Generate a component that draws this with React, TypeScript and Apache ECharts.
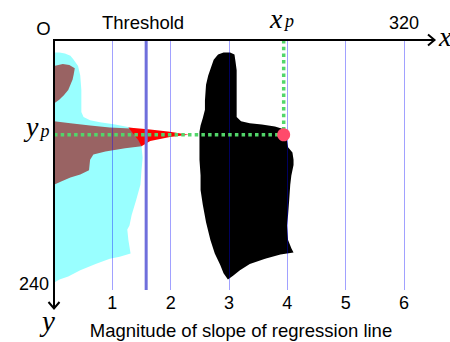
import React, { useEffect, useRef } from "react";
import * as echarts from "echarts";

// Image-space coordinates (x: 0..320, y: 0..240, y downward)
const cyanRegion: number[][] = [
  [0, 12], [5, 12], [10, 13], [15, 15], [18, 19], [22, 25], [24, 34], [25, 48], [25, 69],
  [27, 74], [33, 77], [42, 79], [56, 81], [70, 84], [79, 87], [80, 102], [81, 113], [80, 125],
  [79, 139], [75, 154], [71, 168], [69, 178], [67, 182], [68, 192], [70, 205], [60, 208],
  [51, 210], [38, 215], [24, 221], [13, 227], [5, 230], [0, 233],
];
const brownUpper: number[][] = [
  [0, 25], [8, 23], [14, 24], [19, 27], [18, 33], [17, 38], [13, 48], [9, 53], [5, 57], [0, 61],
];
const brownLower: number[][] = [
  [0, 78], [15, 80], [33, 82], [51, 84], [70, 85], [77, 87], [80, 96], [80, 102], [65, 104],
  [47, 107], [36, 110], [33, 115], [32, 125], [24, 129], [15, 132], [6, 136], [0, 139],
];
const redRegion: number[][] = [
  [68, 84], [88, 86], [106, 88], [123, 91], [106, 93], [88, 97], [80, 102], [77, 96], [71, 88],
];
const blackRegion: number[][] = [
  [155, 12], [161, 12], [165, 14], [166, 21], [167, 29], [167, 43], [167, 58], [167, 74],
  [171, 78], [179, 80], [190, 81], [202, 83], [208, 85], [212, 89], [213, 96], [214, 103],
  [218, 108], [219, 115], [219, 120], [217, 130], [216, 139], [215, 154], [214, 168], [213, 178],
  [214, 192], [217, 200], [219, 204], [207, 206], [193, 210], [179, 215], [170, 221], [164, 226],
  [159, 230], [155, 224], [152, 216], [147, 205], [143, 192], [139, 175], [136, 158], [134, 144],
  [134, 130], [133, 115], [133, 101], [133, 88], [134, 82], [136, 75], [138, 67], [138, 58],
  [139, 43], [141, 34], [144, 25], [146, 19], [150, 14],
];
const pointP: number[] = [210, 91];
const thresholdValue = 1.58;
const slopeTicks = [1, 2, 3, 4, 5, 6];

const polySeries = (pts: number[][], color: string, z: number) => ({
  type: "custom",
  xAxisIndex: 1,
  yAxisIndex: 0,
  z,
  silent: true,
  data: [[0, 0]],
  renderItem: (_params: any, api: any) => ({
    type: "polygon",
    shape: { points: pts.map((p) => api.coord(p)) },
    style: { fill: color, stroke: null },
  }),
});

export default function App() {
  const ref = useRef<HTMLDivElement>(null);
  useEffect(() => {
    if (!ref.current) return;
    const chart = echarts.init(ref.current, null, { renderer: "svg" });
    const sans = "Liberation Sans, Arial, sans-serif";
    const serif = "Liberation Serif, Times New Roman, serif";
    const gridBlue = "rgba(0,0,255,0.37)";
    const ink = "#000";
    chart.setOption({
      animation: false,
      backgroundColor: "#ffffff",
      grid: { left: 54, top: 40, width: 350, height: 250, containLabel: false },
      xAxis: [
        {
          type: "value",
          position: "bottom",
          min: 0,
          max: 6,
          interval: 1,
          z: 3,
          axisLine: { show: true, lineStyle: { color: gridBlue, width: 1.5 } },
          axisTick: { show: false },
          axisLabel: {
            show: true,
            showMinLabel: false,
            fontSize: 18,
            color: ink,
            fontFamily: sans,
            margin: 4,
            formatter: (v: number) => (slopeTicks.includes(v) ? String(v) : ""),
          },
          splitLine: { show: true, lineStyle: { color: gridBlue, width: 1 } },
        },
        {
          type: "value",
          position: "top",
          min: 0,
          max: 320,
          show: false,
        },
      ],
      yAxis: [
        {
          type: "value",
          inverse: true,
          min: 0,
          max: 240,
          axisLine: { show: false },
          axisTick: { show: false },
          axisLabel: { show: false },
          splitLine: { show: false },
        },
      ],
      series: [
        polySeries(cyanRegion, "#99ffff", 1),
        polySeries(brownUpper, "#996363", 1),
        polySeries(brownLower, "#996363", 1),
        polySeries(redRegion, "#ff0000", 1),
        polySeries(blackRegion, "#000000", 1),
        {
          type: "line",
          xAxisIndex: 0,
          yAxisIndex: 0,
          z: 4,
          symbol: "none",
          silent: true,
          data: [[thresholdValue, 0], [thresholdValue, 240]],
          lineStyle: { color: "#6f6fdc", width: 3 },
        },
        {
          type: "line",
          xAxisIndex: 1,
          yAxisIndex: 0,
          z: 6,
          symbol: "none",
          silent: true,
          data: [[0, pointP[1]], [pointP[0], pointP[1]]],
          lineStyle: { color: "#52d66a", width: 3.5, type: [3.5, 3.2], cap: "butt" },
        },
        {
          type: "line",
          xAxisIndex: 1,
          yAxisIndex: 0,
          z: 6,
          symbol: "none",
          silent: true,
          data: [[pointP[0], 0], [pointP[0], pointP[1]]],
          lineStyle: { color: "#52d66a", width: 3.5, type: [3.5, 3.2], cap: "butt" },
        },
        {
          type: "scatter",
          xAxisIndex: 1,
          yAxisIndex: 0,
          z: 7,
          silent: true,
          symbol: "circle",
          symbolSize: 13,
          itemStyle: { color: "#ff4a6b", opacity: 1 },
          data: [pointP],
        },
      ],
      graphic: [
        // top x axis with arrow
        { type: "line", z: 100, shape: { x1: 53, y1: 40, x2: 433, y2: 40 }, style: { stroke: "#000", lineWidth: 2 } },
        { type: "polyline", z: 100, shape: { points: [[428, 34.5], [434.5, 40], [428, 45.5]] }, style: { stroke: "#000", lineWidth: 2, fill: null } },
        // left y axis with arrow
        { type: "line", z: 100, shape: { x1: 54, y1: 39, x2: 54, y2: 307 }, style: { stroke: "#000", lineWidth: 2 } },
        { type: "polyline", z: 100, shape: { points: [[48.5, 302], [54, 308.5], [59.5, 302]] }, style: { stroke: "#000", lineWidth: 2, fill: null } },
        { type: "text", z: 100, x: 43.5, y: 28, style: { text: "O", fontSize: 18.5, fontFamily: sans, fill: ink, align: "center", verticalAlign: "middle" } },
        { type: "text", z: 100, x: 143, y: 22, style: { text: "Threshold", fontSize: 18.5, fontFamily: sans, fill: ink, align: "center", verticalAlign: "middle" } },
        { type: "text", z: 100, x: 404, y: 23, style: { text: "320", fontSize: 18, fontFamily: sans, fill: ink, align: "center", verticalAlign: "middle" } },
        { type: "text", z: 100, x: 49, y: 284, style: { text: "240", fontSize: 18, fontFamily: sans, fill: ink, align: "right", verticalAlign: "middle" } },
        { type: "text", z: 100, x: 241, y: 330, style: { text: "Magnitude of slope of regression line", fontSize: 18.5, fontFamily: sans, fill: ink, align: "center", verticalAlign: "middle" } },
        // math labels
        { type: "text", z: 100, x: 270, y: 18, style: { text: "x", fontSize: 28, fontStyle: "italic", fontFamily: serif, fill: ink, align: "left", verticalAlign: "middle" } },
        { type: "text", z: 100, x: 285, y: 21, style: { text: "p", fontSize: 18, fontStyle: "italic", fontFamily: serif, fill: ink, align: "left", verticalAlign: "middle" } },
        { type: "text", z: 100, x: 26, y: 126, style: { text: "y", fontSize: 28, fontStyle: "italic", fontFamily: serif, fill: ink, align: "left", verticalAlign: "middle" } },
        { type: "text", z: 100, x: 40.5, y: 131, style: { text: "p", fontSize: 18, fontStyle: "italic", fontFamily: serif, fill: ink, align: "left", verticalAlign: "middle" } },
        { type: "text", z: 100, x: 439, y: 36, style: { text: "x", fontSize: 28, fontStyle: "italic", fontFamily: serif, fill: ink, align: "left", verticalAlign: "middle" } },
        { type: "text", z: 100, x: 42, y: 321, style: { text: "y", fontSize: 29, fontStyle: "italic", fontFamily: serif, fill: ink, align: "left", verticalAlign: "middle" } },
      ],
    });
    return () => chart.dispose();
  }, []);
  return (
    <div
      ref={ref}
      style={{ position: "absolute", left: 0, top: 0, width: 450, height: 342, background: "#fff" }}
    />
  );
}
